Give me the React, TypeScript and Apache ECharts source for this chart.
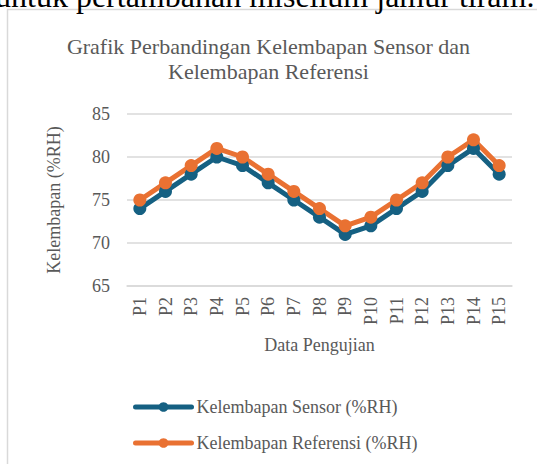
import React, { useEffect, useRef } from "react";
import * as echarts from "echarts";

const categories = ["P1", "P2", "P3", "P4", "P5", "P6", "P7", "P8", "P9", "P10", "P11", "P12", "P13", "P14", "P15"];
const sensorValues = [74, 76, 78, 80, 79, 77, 75, 73, 71, 72, 74, 76, 79, 81, 78];
const referenceValues = [75, 77, 79, 81, 80, 78, 76, 74, 72, 73, 75, 77, 80, 82, 79];
const seriesNames = ["Kelembapan Sensor (%RH)", "Kelembapan Referensi (%RH)"];
const titleText = "Grafik Perbandingan Kelembapan Sensor dan\nKelembapan Referensi";
const xAxisName = "Data Pengujian";
const yAxisName = "Kelembapan (%RH)";
const topText = "untuk pertambahan miselium jamur tiram.";

const FONT = "'Liberation Serif', 'Times New Roman', serif";
const GREY = "#595959";

export default function App() {
  const ref = useRef<HTMLDivElement>(null);
  useEffect(() => {
    if (!ref.current) return;
    const chart = echarts.init(ref.current, null, { renderer: "svg" });
    chart.setOption({
      animation: false,
      backgroundColor: "#ffffff",
      textStyle: { fontFamily: FONT },
      title: {
        text: titleText,
        left: "center",
        top: 29,
        textStyle: { fontFamily: FONT, fontSize: 22, fontWeight: "normal", color: GREY, lineHeight: 25 },
      },
      graphic: [
        {
          type: "rect",
          shape: { x: 7.5, y: 9.5, width: 700, height: 600 },
          style: { fill: "none", stroke: "#d9d9d9", lineWidth: 1.5 },
          silent: true,
        },
        {
          type: "text",
          x: -5,
          y: -4,
          style: { text: topText, fontFamily: FONT, fontSize: 32, fill: "#000000", verticalAlign: "middle" },
          silent: true,
        },
      ],
      legend: {
        orient: "vertical",
        left: 133,
        top: 398,
        padding: 0,
        itemWidth: 56,
        itemHeight: 12,
        itemGap: 18,
        lineStyle: { width: 5, cap: "round" },
        textStyle: { fontFamily: FONT, fontSize: 18, color: GREY },
        data: seriesNames,
      },
      grid: { left: 127, right: 25, top: 114, bottom: 178, containLabel: false },
      xAxis: {
        type: "category",
        data: categories,
        boundaryGap: true,
        name: xAxisName,
        nameLocation: "middle",
        nameGap: 50,
        nameTextStyle: { fontFamily: FONT, fontSize: 18, color: GREY },
        axisLine: { show: true, lineStyle: { color: "#d9d9d9", width: 1.5 } },
        axisTick: { show: false },
        axisLabel: { rotate: 90, margin: 11, fontFamily: FONT, fontSize: 18, color: GREY },
      },
      yAxis: {
        type: "value",
        min: 65,
        max: 85,
        interval: 5,
        name: yAxisName,
        nameLocation: "middle",
        nameGap: 64,
        nameTextStyle: { fontFamily: FONT, fontSize: 18, color: GREY },
        axisLine: { show: false },
        axisTick: { show: false },
        axisLabel: { margin: 17, fontFamily: FONT, fontSize: 18, color: GREY },
        splitLine: { lineStyle: { color: "#d9d9d9", width: 1.5 } },
      },
      series: [
        {
          name: seriesNames[0],
          type: "line",
          data: sensorValues,
          color: "#156082",
          symbol: "circle",
          symbolSize: 13,
          lineStyle: { width: 5, color: "#156082" },
          itemStyle: { color: "#156082" },
        },
        {
          name: seriesNames[1],
          type: "line",
          data: referenceValues,
          color: "#E97132",
          symbol: "circle",
          symbolSize: 13,
          lineStyle: { width: 5, color: "#E97132" },
          itemStyle: { color: "#E97132" },
        },
      ],
    });
    return () => chart.dispose();
  }, []);
  return (
    <div
      ref={ref}
      style={{ position: "absolute", left: 0, top: 0, width: 537, height: 464 }}
    />
  );
}
